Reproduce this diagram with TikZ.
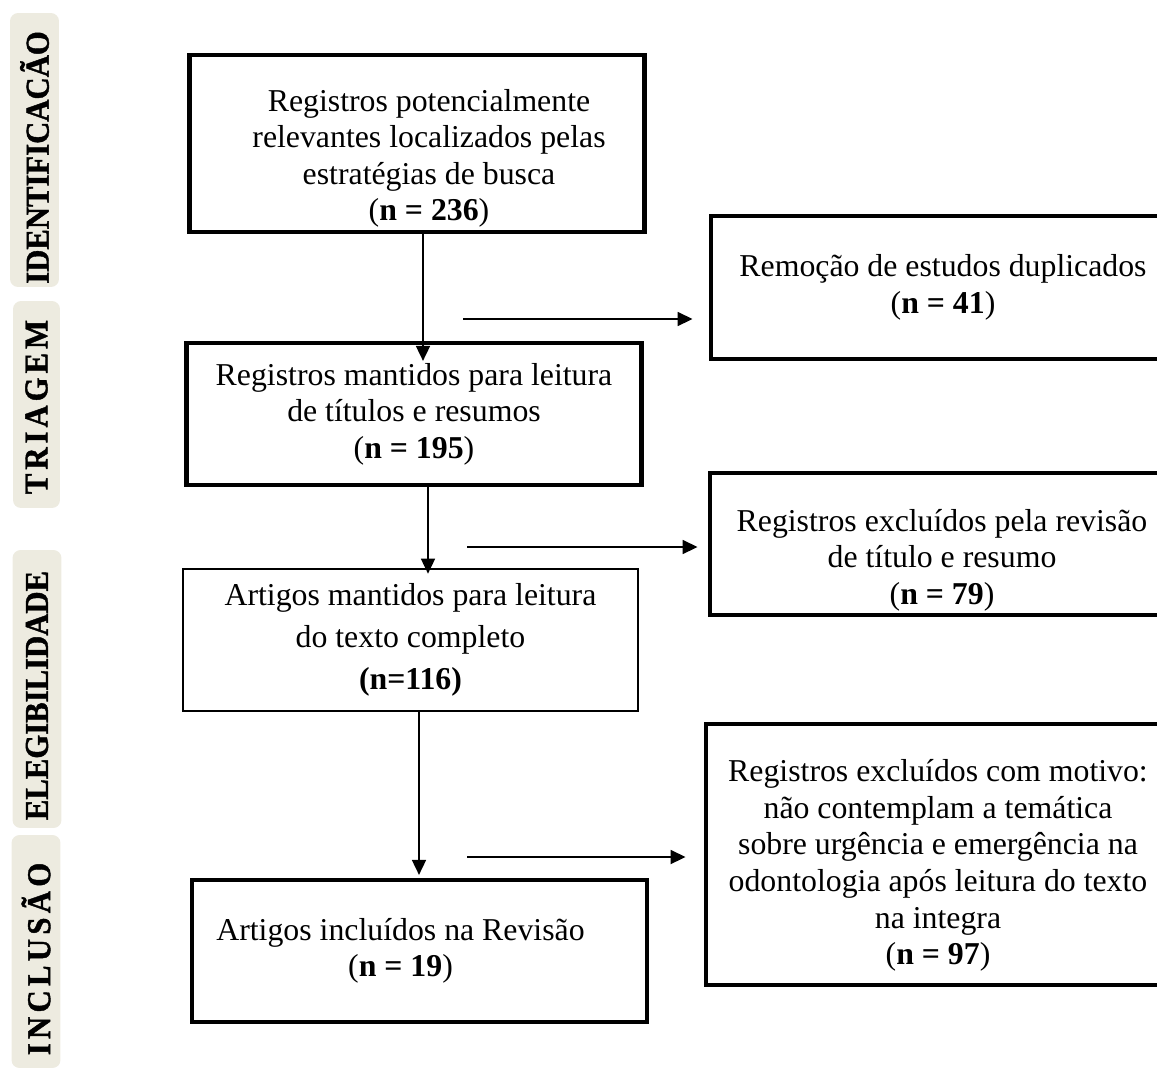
\documentclass[tikz,border=0pt]{standalone}
\usepackage{fontspec}
\setmainfont{Liberation Serif}
\newfontfamily\stagefont[FakeStretch=0.92, FakeBold=1.2]{Liberation Serif}
\usetikzlibrary{arrows.meta,positioning}
\definecolor{tabfill}{HTML}{EDEBE0}
\tikzset{
        box_text/.style={align=center, inner sep=0pt, font=\fontsize{18.1}{20.8}\selectfont},
        flowbox/.style={rectangle, draw=black, box_text},
        % Boxes of the main column
        box_main/.style={flowbox, line width=0.085cm, minimum width=9.1cm, minimum height=2.84cm},
        % Boxes of the excluded records
        box_excl/.style={flowbox, line width=0.08cm, minimum width=9.3cm, minimum height=2.86cm},
        % Stage tabs on the left
        tab_stage/.style={rectangle, rounded corners=0.16cm, fill=tabfill, rotate=90, inner sep=0pt, minimum height=0.98cm, font=\stagefont\fontsize{19}{21}\selectfont\bfseries},
        % Arrows
        flow_arrow/.style={-{Triangle[length=0.3cm,width=0.28cm]}, line width=0.035cm}
}

\begin{document}
\begin{tikzpicture}[x=0.02cm, y=-0.02cm]
            \useasboundingbox (0,0) rectangle (1157,1073);
            \clip (0,0) rectangle (1157,1073);

            % stages
            \node[tab_stage, minimum width=5.48cm] (t_ident) at (34.5,150) {IDENTIFICACÃO\hspace*{0.3cm}};
            \node[tab_stage, minimum width=4.14cm, minimum height=0.94cm] (t_triag) at (36.5,404.5) {\addfontfeatures{LetterSpace=12}TRIAGEM\hspace*{0.1cm}};
            \node[tab_stage, minimum width=5.56cm] (t_eleg) at (37,689) {ELEGIBILIDADE\hspace*{0.26cm}};
            \node[tab_stage, minimum width=4.66cm] (t_incl) at (36,951.5) {\addfontfeatures{LetterSpace=13}INCLUSÃO\hspace*{0.3cm}};

            % main column
            \node[box_main, minimum height=3.54cm, label={[box_text, xshift=0.24cm, yshift=-0.3cm]center:{Registros potencialmente\\relevantes localizados pelas\\estratégias de busca\\(\textbf{n = 236})}}] (ident) at (417,143.5) {};
            \node[box_main] (triag) at (414,414) {Registros mantidos para leitura\\de títulos e resumos\\(\textbf{n = 195})};
            \node[box_main, line width=0.055cm] (eleg) at (410.5,640) {Artigos mantidos para leitura\\[3pt]do texto completo\\[3pt]\textbf{(n=116)}};
            \node[box_main, label={[box_text, xshift=-0.38cm]center:{Artigos incluídos na Revisão\\(\textbf{n = 19})}}] (incl) at (419.5,951) {};

            % excluded records
            \node[box_excl] (dup) at (943,287.5) {Remoção de estudos duplicados\\(\textbf{n = 41})};
            \node[box_excl, label={[box_text, yshift=-0.32cm]center:{Registros excluídos pela revisão\\de título e resumo\\(\textbf{n = 79})}}] (excl_tr) at (942,544) {};
            \node[box_excl, minimum height=5.22cm, label={[box_text, yshift=-0.22cm]center:{Registros excluídos com motivo:\\não contemplam a temática\\sobre urgência e emergência na\\odontologia após leitura do texto\\na integra\\(\textbf{n = 97})}}] (excl_el) at (938,854.5) {};

            % flow
            \draw[flow_arrow, shorten >=-0.4cm] ([xshift=0.12cm]ident.south) -- ([xshift=0.12cm]ident.south |- triag.north);
            \draw[flow_arrow, shorten >=-0.12cm] ([xshift=0.28cm]triag.south) -- ([xshift=0.28cm]triag.south |- eleg.north);
            \draw[flow_arrow, shorten >=0.06cm] ([xshift=0.17cm]eleg.south) -- ([xshift=0.17cm]eleg.south |- incl.north);

            \coordinate (h_dup) at (463,319);
            \coordinate (h_tr) at (467,547);
            \coordinate (h_el) at (467,857);
            \draw[flow_arrow, shorten >=0.32cm] (h_dup) -- (h_dup -| dup.west);
            \draw[flow_arrow, shorten >=0.2cm] (h_tr) -- (h_tr -| excl_tr.west);
            \draw[flow_arrow, shorten >=0.36cm] (h_el) -- (h_el -| excl_el.west);
\end{tikzpicture}
\end{document}
